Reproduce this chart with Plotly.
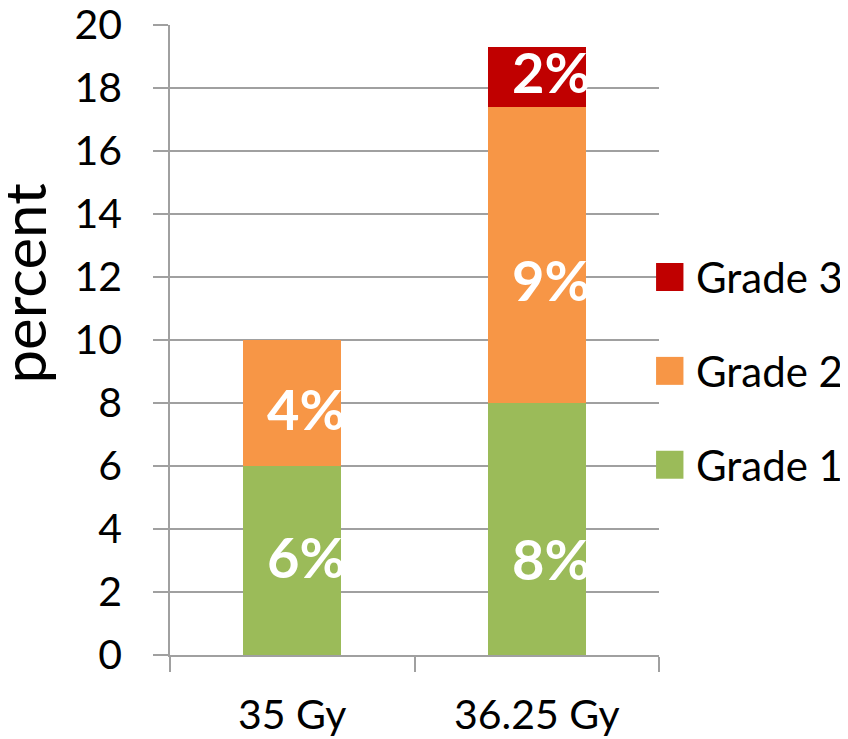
import plotly.graph_objects as go

categories = ["35 Gy", "36.25 Gy"]
grade1 = [6, 8]
grade2 = [4, 9.4]
grade3 = [0, 1.9]
series_names = ["Grade 1", "Grade 2", "Grade 3"]
series_colors = ["#9BBB59", "#F79646", "#C00000"]
y_ticks = [0, 2, 4, 6, 8, 10, 12, 14, 16, 18, 20]

# data labels (category, label y, text)
label_cat = ["35 Gy", "35 Gy", "36.25 Gy", "36.25 Gy", "36.25 Gy"]
label_y = [2.9, 7.6, 2.85, 11.7, 18.3]
label_text = ["6%", "4%", "8%", "9%", "2%"]

FONT = "Lato, Calibri, Carlito, sans-serif"

fig = go.Figure()
for name, vals, col in zip(series_names, [grade1, grade2, grade3], series_colors):
    fig.add_trace(go.Bar(x=categories, y=vals, name=name, marker_color=col,
                         marker_line_width=0, showlegend=False))

for c, y, t in zip(label_cat, label_y, label_text):
    fig.add_annotation(x=c, y=y, text="<b>%s</b>" % t, showarrow=False,
                       xanchor="center", yanchor="middle", xshift=14, yshift=7,
                       font=dict(family=FONT, size=56, color="white"))

# manual legend (top to bottom: Grade 3, Grade 2, Grade 1)
leg_y = [0.302, 0.451, 0.600]
for name, col, ly in zip(series_names, series_colors, leg_y):
    fig.add_shape(type="rect", xref="paper", yref="paper",
                  x0=0.994, x1=1.050, y0=ly - 0.0222, y1=ly + 0.0222,
                  fillcolor=col, line_width=0)
    fig.add_annotation(xref="paper", yref="paper", x=1.072, y=ly, text=name,
                       showarrow=False, xanchor="left", yanchor="middle",
                       font=dict(family=FONT, size=42, color="black"))

# y axis title
fig.add_annotation(xref="paper", yref="paper", x=-0.30, y=0.590, text="percent",
                   showarrow=False, textangle=-90, xanchor="center", yanchor="middle",
                   font=dict(family=FONT, size=60, color="black"))

fig.update_layout(
    width=840, height=731,
    margin=dict(l=162, r=189, t=17, b=84, autoexpand=False),
    paper_bgcolor="white", plot_bgcolor="white",
    barmode="stack", bargap=0.6,
    font=dict(family=FONT, color="black"),
    showlegend=False,
)
fig.update_yaxes(range=[0, 20], tickvals=y_ticks, showgrid=True, gridcolor="#A0A0A0",
                 gridwidth=1.5, showline=True, linecolor="#A0A0A0", linewidth=1.5,
                 ticks="outside", ticklen=15, tickcolor="#A0A0A0", tickwidth=1.5,
                 tickfont=dict(family=FONT, size=41, color="black"),
                 ticklabelstandoff=23, ticklabeloverflow="allow", zeroline=False)
fig.update_xaxes(showline=True, linecolor="#A0A0A0", linewidth=1.5,
                 ticks="outside", tickson="boundaries", ticklen=15,
                 tickcolor="#A0A0A0", tickwidth=1.5,
                 tickfont=dict(family=FONT, size=41, color="black"),
                 ticklabelstandoff=23, ticklabeloverflow="allow", mirror=False)

fig.write_html("out.html")
